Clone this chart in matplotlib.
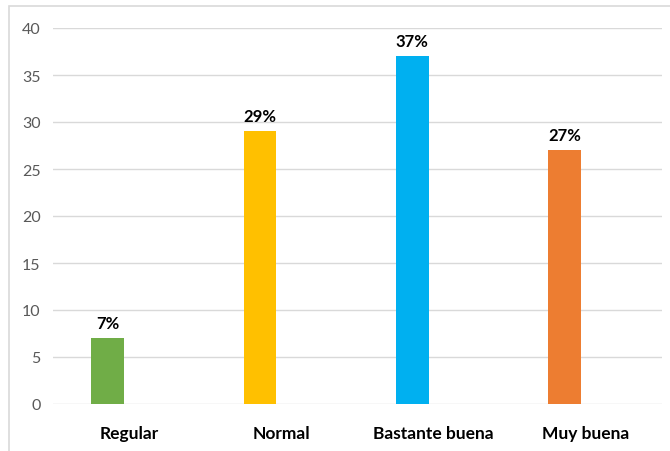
import matplotlib
matplotlib.use("Agg")
import matplotlib.pyplot as plt
from matplotlib.patches import Rectangle

categories = ["Regular", "Normal", "Bastante buena", "Muy buena"]
values = [7, 29, 37, 27]
labels = ["7%", "29%", "37%", "27%"]
colors = ["#70AD47", "#FFC000", "#00B0F0", "#ED7D31"]
yticks = [0, 5, 10, 15, 20, 25, 30, 35, 40]

plt.rcParams['font.family'] = ['Lato', 'DejaVu Sans']

fig = plt.figure(figsize=(6.7, 4.52), dpi=100)
fig.patches.append(Rectangle((9/670, -0.1), 1.2, 1 - 7/452 + 0.1, transform=fig.transFigure,
                             fill=False, edgecolor="#D9D9D9", linewidth=1.2))
ax = fig.add_axes([53/670, 1 - 405/452, (662 - 53)/670, (405 - 29)/452])

x = list(range(len(categories)))
offset = -0.14
bars = ax.bar([i + offset for i in x], values, width=0.215, color=colors, zorder=3)
for i, (v, lab) in enumerate(zip(values, labels)):
    ax.annotate(lab, (i + offset, v), xytext=(0, 5), textcoords="offset points",
                ha="center", va="bottom", fontsize=12, fontweight="bold", color="black")

ax.set_xlim(-0.5, 3.5)
ax.set_ylim(0, 40)
ax.set_yticks(yticks)
ax.set_xticks(x)
ax.set_xticklabels(categories, fontsize=12.5, fontweight="bold", color="black")
ax.tick_params(axis="x", length=0, pad=15)
ax.tick_params(axis="y", length=0, pad=9, labelsize=11.5, labelcolor="#595959")
ax.grid(axis="y", color="#D9D9D9", linewidth=1, zorder=0)
for s in ax.spines.values():
    s.set_visible(False)

fig.savefig("out.png", dpi=100)
